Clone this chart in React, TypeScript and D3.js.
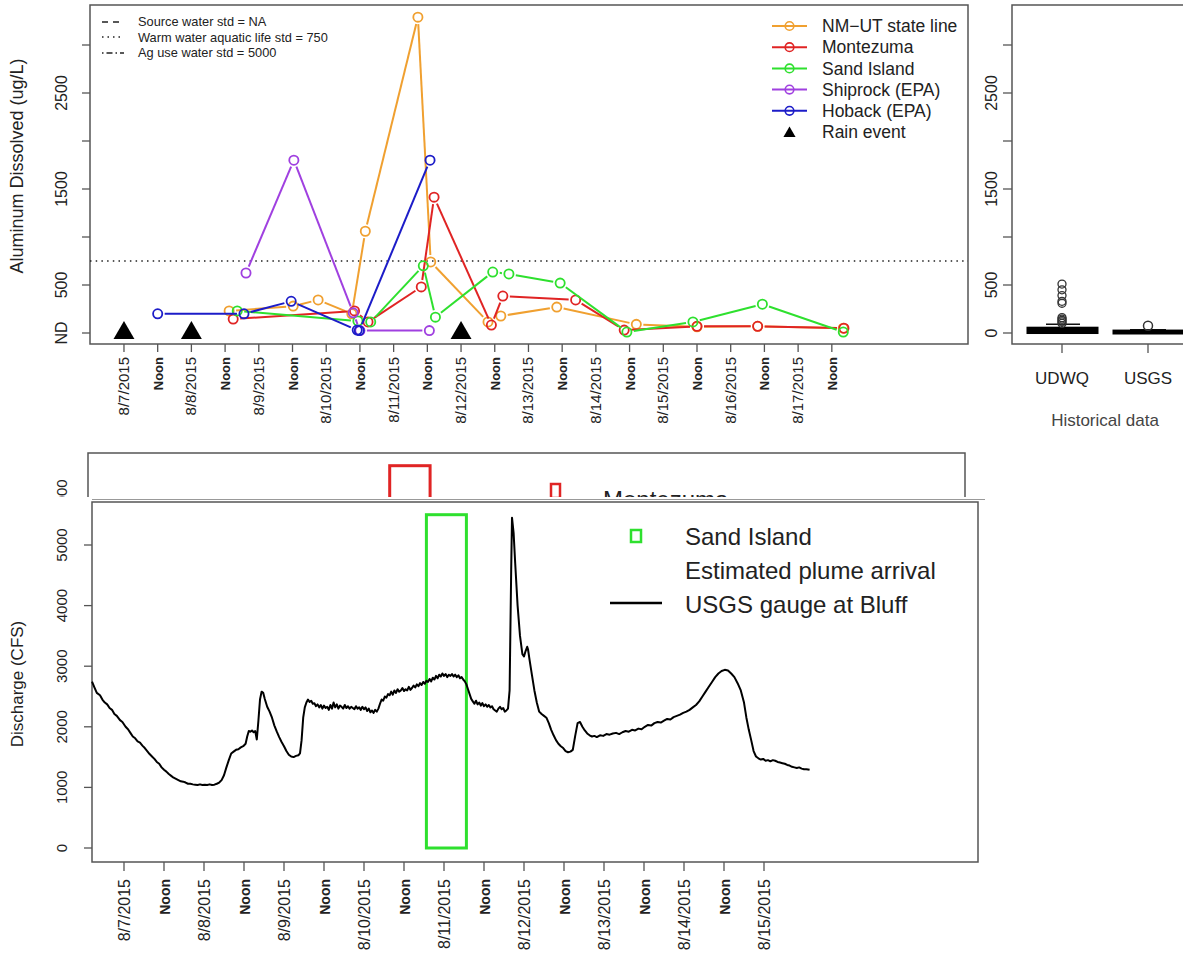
import React from 'react';
import * as d3 from 'd3';

// ---------- DATA ----------
const topTickLabels = ["8/7/2015","Noon","8/8/2015","Noon","8/9/2015","Noon","8/10/2015","Noon","8/11/2015","Noon","8/12/2015","Noon","8/13/2015","Noon","8/14/2015","Noon","8/15/2015","Noon","8/16/2015","Noon","8/17/2015","Noon"];
const botTickLabels = ["8/7/2015","Noon","8/8/2015","Noon","8/9/2015","Noon","8/10/2015","Noon","8/11/2015","Noon","8/12/2015","Noon","8/13/2015","Noon","8/14/2015","Noon","8/15/2015"];
const topYTicks = [0, 500, 1000, 1500, 2000, 2500, 3000];
const topYLabels = ["ND", "500", "", "1500", "", "2500", ""];
const rightYLabels = ["0", "500", "", "1500", "", "2500", ""];
const botYTicks = [0, 1000, 2000, 3000, 4000, 5000];

// days since 8/7/2015 00:00, value ug/L
const nmutDays = [1.56, 2.51, 2.88, 3.38, 3.58, 4.36, 4.55, 5.40, 5.59, 6.42, 7.60, 8.50, 9.40, 10.67];
const nmutVals = [230, 280, 344, 200, 1060, 3290, 740, 115, 177, 270, 90, 65, 70, 50];
const montDays = [1.62, 3.42, 3.62, 4.41, 4.60, 5.45, 5.62, 6.70, 7.42, 8.50, 9.40, 10.68];
const montVals = [145, 230, 115, 480, 1415, 83, 385, 344, 30, 70, 70, 50];
const sandDays = [1.68, 3.47, 3.66, 4.44, 4.62, 5.47, 5.71, 6.47, 7.46, 8.44, 9.47, 10.67];
const sandVals = [230, 125, 115, 700, 165, 635, 615, 520, 10, 115, 300, 10];
const shipDays = [1.81, 2.52, 3.40, 3.50, 4.53];
const shipVals = [625, 1800, 210, 25, 25];
const hobDays = [0.50, 1.78, 2.48, 3.46, 3.49, 4.54];
const hobVals = [200, 200, 330, 30, 25, 1800];
const rainDays = [0, 1, 5];
const aquaticStd = 750;

const udwqOutliers = [100, 115, 130, 145, 160, 310, 330, 390, 450, 510];
const usgsOutliers = [75];

const seriesNames = ["NM\u2212UT state line", "Montezuma", "Sand Island", "Shiprock (EPA)", "Hoback (EPA)"];
const seriesColors = ["#f0a030", "#e02424", "#2ee02e", "#a040e0", "#1c1cc8"];

// discharge at Bluff (CFS): [day, cfs]
const discharge: [number, number][] = [
  [-0.40,2745],[-0.37,2650],[-0.34,2560],[-0.30,2520],[-0.27,2450],[-0.24,2400],[-0.21,2370],[-0.18,2310],[-0.15,2280],[-0.12,2210],[-0.09,2180],[-0.05,2110],[-0.02,2080],[0.02,2000],[0.05,1960],[0.08,1900],[0.11,1840],[0.14,1810],[0.17,1760],[0.20,1740],[0.23,1690],[0.26,1650],[0.29,1600],[0.32,1550],[0.35,1510],[0.38,1470],[0.41,1420],[0.44,1390],[0.47,1330],[0.50,1290],[0.53,1260],[0.56,1220],[0.59,1190],[0.62,1160],[0.65,1140],[0.68,1120],[0.71,1100],[0.74,1095],[0.77,1080],[0.80,1060],[0.83,1060],[0.86,1050],[0.89,1045],[0.92,1040],[0.95,1050],[0.98,1040],[1.01,1045],[1.04,1040],[1.07,1050],[1.10,1040],[1.13,1045],[1.16,1060],[1.19,1080],[1.22,1120],[1.25,1200],[1.28,1330],[1.31,1450],[1.34,1560],[1.37,1590],[1.40,1620],[1.43,1630],[1.46,1660],[1.49,1680],[1.52,1720],
  [1.54,1840],[1.56,1930],[1.58,1920],[1.60,1940],[1.62,1910],[1.64,1930],[1.66,1790],[1.68,2100],[1.70,2450],[1.72,2580],[1.74,2560],[1.76,2460],[1.79,2330],[1.82,2250],[1.85,2150],[1.88,2020],[1.91,1920],[1.94,1830],[1.97,1750],[2.00,1680],[2.03,1600],[2.06,1540],[2.09,1510],[2.12,1500],[2.15,1520],[2.18,1530],[2.20,1560],
  [2.22,1780],[2.24,2150],[2.26,2320],[2.28,2400],[2.30,2450],[2.32,2410],[2.34,2430],[2.36,2380],[2.38,2390],[2.40,2340],[2.42,2370],[2.44,2320],[2.46,2360],[2.48,2300],[2.50,2350],[2.52,2310],[2.54,2330],[2.56,2280],[2.58,2360],[2.60,2300],[2.62,2400],[2.64,2320],[2.66,2370],[2.68,2300],[2.70,2350],[2.72,2330],[2.74,2300],[2.76,2360],[2.78,2310],[2.80,2340],[2.82,2300],[2.84,2330],[2.86,2310],[2.88,2290],[2.90,2340],[2.92,2300],[2.94,2320],[2.96,2280],[2.98,2330],[3.00,2290],[3.02,2320],[3.04,2260],[3.06,2300],[3.08,2240],[3.10,2270],[3.12,2230],[3.14,2280],[3.16,2250],[3.18,2300],[3.20,2380],[3.22,2450],[3.24,2430],[3.26,2500],[3.28,2480],[3.30,2540],[3.32,2520],[3.34,2580],[3.36,2530],[3.38,2600],[3.40,2560],[3.42,2620],[3.44,2580],[3.46,2600],[3.48,2640],[3.50,2590],[3.52,2620],[3.54,2600],[3.56,2660],[3.58,2610],[3.60,2640],[3.62,2680],[3.64,2650],[3.66,2700],[3.68,2670],[3.70,2720],[3.72,2690],[3.74,2740],[3.76,2710],[3.78,2760],[3.80,2740],[3.82,2790],[3.84,2750],[3.86,2810],[3.88,2780],[3.90,2840],[3.92,2800],[3.94,2860],[3.96,2830],[3.98,2880],[4.00,2840],[4.02,2870],[4.04,2820],[4.06,2860],[4.08,2840],[4.10,2870],[4.12,2830],[4.14,2860],[4.16,2820],[4.18,2850],[4.20,2800],[4.22,2820],[4.24,2780],[4.26,2750],[4.28,2700],[4.30,2620],[4.32,2540],[4.34,2460],[4.36,2420],[4.38,2380],[4.40,2430],[4.42,2370],[4.44,2400],[4.46,2350],[4.48,2390],[4.50,2340],[4.52,2370],[4.54,2330],[4.56,2360],[4.58,2320],[4.60,2340],[4.62,2290],[4.64,2270],[4.66,2250],[4.68,2300],[4.70,2330],[4.72,2290],[4.74,2310],[4.76,2250],[4.78,2270],[4.80,2300],
  [4.82,2600],[4.84,4600],[4.85,5450],[4.87,5200],[4.89,4700],[4.92,4000],[4.95,3500],[4.98,3200],[5.00,3160],[5.02,3250],[5.04,3320],[5.05,3280],[5.07,3100],[5.10,2850],[5.13,2600],[5.16,2400],[5.19,2250],[5.22,2210],[5.25,2180],[5.28,2150],[5.31,2060],[5.34,1950],[5.37,1860],[5.40,1780],[5.43,1720],[5.46,1680],[5.49,1650],[5.52,1600],[5.55,1580],[5.58,1590],[5.61,1620],[5.64,1850],[5.67,2060],[5.70,2080],[5.73,2000],[5.76,1940],[5.79,1890],[5.82,1860],[5.85,1840],[5.88,1850],[5.91,1830],[5.95,1860],[5.99,1850],[6.03,1880],[6.07,1870],[6.11,1890],[6.15,1900],[6.19,1880],[6.23,1910],[6.27,1930],[6.31,1920],[6.35,1950],[6.39,1940],[6.43,1970],[6.47,1960],[6.51,2000],[6.55,2030],[6.59,2020],[6.63,2060],[6.67,2080],[6.71,2070],[6.75,2100],[6.79,2130],[6.83,2120],[6.87,2160],[6.91,2180],[6.95,2200],[6.99,2230],[7.03,2250],[7.07,2280],[7.11,2320],[7.15,2360],[7.19,2420],[7.23,2500],[7.27,2580],[7.31,2660],[7.35,2740],[7.39,2820],[7.43,2880],[7.47,2920],[7.51,2940],[7.55,2930],[7.59,2880],[7.63,2820],[7.67,2720],[7.71,2600],[7.75,2400],[7.78,2150],[7.81,1950],[7.84,1780],[7.87,1600],[7.90,1510],[7.93,1480],[7.96,1460],[7.99,1470],[8.02,1440],[8.05,1450],[8.08,1430],[8.11,1450],[8.14,1440],[8.17,1420],[8.20,1410],[8.23,1400],[8.26,1390],[8.29,1370],[8.32,1360],[8.35,1340],[8.38,1330],[8.41,1320],[8.44,1330],[8.47,1310],[8.50,1300],[8.53,1300],[8.57,1290],
];

const sandPlume = [3.78, 4.28];
const montPlume = [3.41, 3.92];
const plumeTop = 5500;

// ---------- LAYOUT ----------
const FONT = "'Liberation Sans', Arial, Helvetica, sans-serif";
const frame = "#555";

const xTop = d3.scaleLinear().domain([-0.504, 12.52]).range([90, 968]);
const yTop = d3.scaleLinear().domain([0, 3000]).range([333, 45]);
const xBot = d3.scaleLinear().domain([-0.40, 10.675]).range([92, 978]);
const yBot = d3.scaleLinear().domain([0, 5000]).range([848, 545]);
const xMz = d3.scaleLinear().domain([-0.40, 10.675]).range([88, 965]);
const yMz = d3.scaleLinear().domain([0, 5000]).range([799, 496]);

function gapSegs(pts: [number, number][], gap: number) {
  const segs: number[][] = [];
  for (let i = 0; i < pts.length - 1; i++) {
    const [x1, y1] = pts[i];
    const [x2, y2] = pts[i + 1];
    const dx = x2 - x1, dy = y2 - y1;
    const L = Math.hypot(dx, dy);
    if (L <= 2 * gap) continue;
    const ux = dx / L, uy = dy / L;
    segs.push([x1 + ux * gap, y1 + uy * gap, x2 - ux * gap, y2 - uy * gap]);
  }
  return segs;
}

export default function App() {
  const series = [
    { d: nmutDays, v: nmutVals },
    { d: montDays, v: montVals },
    { d: sandDays, v: sandVals },
    { d: shipDays, v: shipVals },
    { d: hobDays, v: hobVals },
  ];
  const qLine = d3.line<[number, number]>().x((p) => xBot(p[0])).y((p) => yBot(p[1]))(discharge) || "";
  const tri = (cx: number, cy: number, s: number) =>
    `M${cx},${cy - s * 0.5}L${cx + s * 0.55},${cy + s * 0.45}L${cx - s * 0.55},${cy + s * 0.45}Z`;

  return (
    <svg width={1183} height={963} style={{ position: 'absolute', left: 0, top: 0, background: '#fff' }}
      fontFamily={FONT}>
      <rect x={0} y={0} width={1183} height={963} fill="#fff" />

      {/* ===== TOP PANEL ===== */}
      <rect x={90} y={5} width={878} height={339} fill="none" stroke={frame} strokeWidth={1.5} />
      {topYTicks.map((t, i) => (
        <g key={'ty' + i}>
          <line x1={82} x2={90} y1={yTop(t)} y2={yTop(t)} stroke={frame} strokeWidth={1.3} />
          {topYLabels[i] && (
            <text transform={`translate(67,${yTop(t)}) rotate(-90)`} textAnchor="middle" fontSize={16} fill="#222">{topYLabels[i]}</text>
          )}
        </g>
      ))}
      <text transform="translate(23,166) rotate(-90)" textAnchor="middle" fontSize={18} fill="#222">Aluminum Dissolved (ug/L)</text>
      {topTickLabels.map((lab, i) => {
        const x = xTop(i * 0.5);
        const noon = lab === 'Noon';
        return (
          <g key={'tx' + i}>
            <line x1={x} x2={x} y1={344} y2={352} stroke={frame} strokeWidth={1.3} />
            <text transform={`translate(${x + 5},357) rotate(-90)`} textAnchor="end" fontSize={noon ? 13 : 15}
              fontWeight={noon ? 'bold' : 'normal'} fill="#222">{lab}</text>
          </g>
        );
      })}
      {/* aquatic life std */}
      <line x1={90} x2={968} y1={yTop(aquaticStd)} y2={yTop(aquaticStd)} stroke="#222" strokeWidth={1.6} strokeDasharray="1.5,4.2" />
      {/* rain */}
      {rainDays.map((d, i) => (
        <path key={'r' + i} d={tri(xTop(d), 330.5, 19)} fill="#000" />
      ))}
      {/* series */}
      {series.map((s, si) => {
        const pts = s.d.map((d, i) => [xTop(d), yTop(s.v[i])] as [number, number]);
        return (
          <g key={'s' + si}>
            {gapSegs(pts, 7).map((g, k) => (
              <line key={k} x1={g[0]} y1={g[1]} x2={g[2]} y2={g[3]} stroke={seriesColors[si]} strokeWidth={2} />
            ))}
            {pts.map((p, k) => (
              <circle key={'c' + k} cx={p[0]} cy={p[1]} r={4.6} fill="none" stroke={seriesColors[si]} strokeWidth={1.8} />
            ))}
          </g>
        );
      })}
      {/* top-left legend */}
      <g fontSize={12.8} fill="#222">
        <line x1={102} x2={124} y1={22} y2={22} stroke="#222" strokeWidth={1.5} strokeDasharray="6,5" />
        <line x1={102} x2={124} y1={37} y2={37} stroke="#222" strokeWidth={1.5} strokeDasharray="1.5,4" />
        <line x1={102} x2={124} y1={53} y2={53} stroke="#222" strokeWidth={1.5} strokeDasharray="1.5,3,6,3" />
        <text x={138} y={26}>Source water std = NA</text>
        <text x={138} y={41.5}>Warm water aquatic life std = 750</text>
        <text x={138} y={57}>Ag use water std = 5000</text>
      </g>
      {/* top-right legend */}
      <g fontSize={17.5} fill="#222">
        {seriesNames.map((n, i) => {
          const y = 26 + i * 21.2;
          return (
            <g key={'l' + i}>
              <line x1={772} x2={807} y1={y} y2={y} stroke={seriesColors[i]} strokeWidth={2} />
              <circle cx={789.5} cy={y} r={4.3} fill="none" stroke={seriesColors[i]} strokeWidth={1.6} />
              <text x={822} y={y + 6.2}>{n}</text>
            </g>
          );
        })}
        <path d={tri(789.5, 132, 11)} fill="#000" />
        <text x={822} y={138.2}>Rain event</text>
      </g>

      {/* ===== RIGHT PANEL (historical) ===== */}
      <rect x={1012} y={5} width={190} height={339} fill="none" stroke={frame} strokeWidth={1.5} />
      {topYTicks.map((t, i) => (
        <g key={'ry' + i}>
          <line x1={1003} x2={1012} y1={yTop(t)} y2={yTop(t)} stroke={frame} strokeWidth={1.3} />
          {rightYLabels[i] && (
            <text transform={`translate(997,${yTop(t)}) rotate(-90)`} textAnchor="middle" fontSize={16} fill="#222">{rightYLabels[i]}</text>
          )}
        </g>
      ))}
      {/* UDWQ box */}
      <line x1={1062} x2={1062} y1={yTop(50)} y2={yTop(90)} stroke="#111" strokeWidth={1.3} strokeDasharray="3,2" />
      <line x1={1046} x2={1080} y1={yTop(90)} y2={yTop(90)} stroke="#111" strokeWidth={1.5} />
      <rect x={1028} y={yTop(50)} width={69} height={yTop(5) - yTop(50)} fill="#000" stroke="#000" strokeWidth={3} />
      {udwqOutliers.map((v, i) => (
        <circle key={'uo' + i} cx={1062} cy={yTop(v)} r={4} fill="none" stroke="#333" strokeWidth={1.3} />
      ))}
      {/* USGS box */}
      <line x1={1130} x2={1166} y1={yTop(35)} y2={yTop(35)} stroke="#111" strokeWidth={1.5} />
      <rect x={1114} y={yTop(20)} width={76} height={yTop(0) - yTop(20)} fill="#000" stroke="#000" strokeWidth={3} />
      {usgsOutliers.map((v, i) => (
        <circle key={'so' + i} cx={1148} cy={yTop(v)} r={4.5} fill="none" stroke="#333" strokeWidth={1.5} />
      ))}
      <line x1={1062} x2={1062} y1={344} y2={353} stroke={frame} strokeWidth={1.3} />
      <line x1={1148} x2={1148} y1={344} y2={353} stroke={frame} strokeWidth={1.3} />
      <text x={1062} y={384} textAnchor="middle" fontSize={17} fill="#222">UDWQ</text>
      <text x={1148} y={384} textAnchor="middle" fontSize={17} fill="#222">USGS</text>
      <text x={1105} y={426} textAnchor="middle" fontSize={17} fill="#444">Historical data</text>

      {/* ===== MONTEZUMA (partially hidden) PANEL ===== */}
      <rect x={88} y={453} width={877} height={80} fill="none" stroke={frame} strokeWidth={1.5} />
      <rect x={xMz(montPlume[0])} y={yMz(plumeTop)} width={xMz(montPlume[1]) - xMz(montPlume[0])} height={yMz(0) - yMz(plumeTop)}
        fill="none" stroke="#e02424" strokeWidth={3} />
      <text transform={`translate(67,${yMz(5000)}) rotate(-90)`} textAnchor="middle" fontSize={15} fill="#222">5000</text>
      <rect x={551} y={484} width={9} height={14} fill="none" stroke="#e02424" strokeWidth={2.5} />
      <text x={603} y={508} fontSize={24} fill="#222">Montezuma</text>

      {/* ===== DISCHARGE PANEL ===== */}
      <rect x={0} y={497} width={985} height={466} fill="#fff" />
      <line x1={92} x2={985} y1={499.5} y2={499.5} stroke="#999" strokeWidth={1} />
      <rect x={92} y={502} width={886} height={360} fill="none" stroke={frame} strokeWidth={1.5} />
      {botYTicks.map((t, i) => (
        <g key={'by' + i}>
          <line x1={84} x2={92} y1={yBot(t)} y2={yBot(t)} stroke={frame} strokeWidth={1.3} />
          <text transform={`translate(67,${yBot(t)}) rotate(-90)`} textAnchor="middle" fontSize={15} fill="#222">{t}</text>
        </g>
      ))}
      <text transform="translate(23,684) rotate(-90)" textAnchor="middle" fontSize={17} fill="#222">Discharge (CFS)</text>
      {botTickLabels.map((lab, i) => {
        const x = xBot(i * 0.5);
        const noon = lab === 'Noon';
        return (
          <g key={'bx' + i}>
            <line x1={x} x2={x} y1={862} y2={871} stroke={frame} strokeWidth={1.3} />
            <text transform={`translate(${x + 5.5},879) rotate(-90)`} textAnchor="end" fontSize={noon ? 14 : 16}
              fontWeight={noon ? 'bold' : 'normal'} fill="#222">{lab}</text>
          </g>
        );
      })}
      <rect x={xBot(sandPlume[0])} y={yBot(plumeTop)} width={xBot(sandPlume[1]) - xBot(sandPlume[0])} height={yBot(0) - yBot(plumeTop)}
        fill="none" stroke="#2ee02e" strokeWidth={3} />
      <path d={qLine} fill="none" stroke="#000" strokeWidth={2} strokeLinejoin="round" />
      {/* legend */}
      <rect x={631} y={530} width={10} height={12} fill="none" stroke="#2ee02e" strokeWidth={2.5} />
      <text x={685} y={545} fontSize={24} fill="#222">Sand Island</text>
      <text x={685} y={579} fontSize={24} fill="#222">Estimated plume arrival</text>
      <line x1={610} x2={662} y1={603} y2={603} stroke="#000" strokeWidth={2.5} />
      <text x={685} y={613} fontSize={24} fill="#222">USGS gauge at Bluff</text>
    </svg>
  );
}
